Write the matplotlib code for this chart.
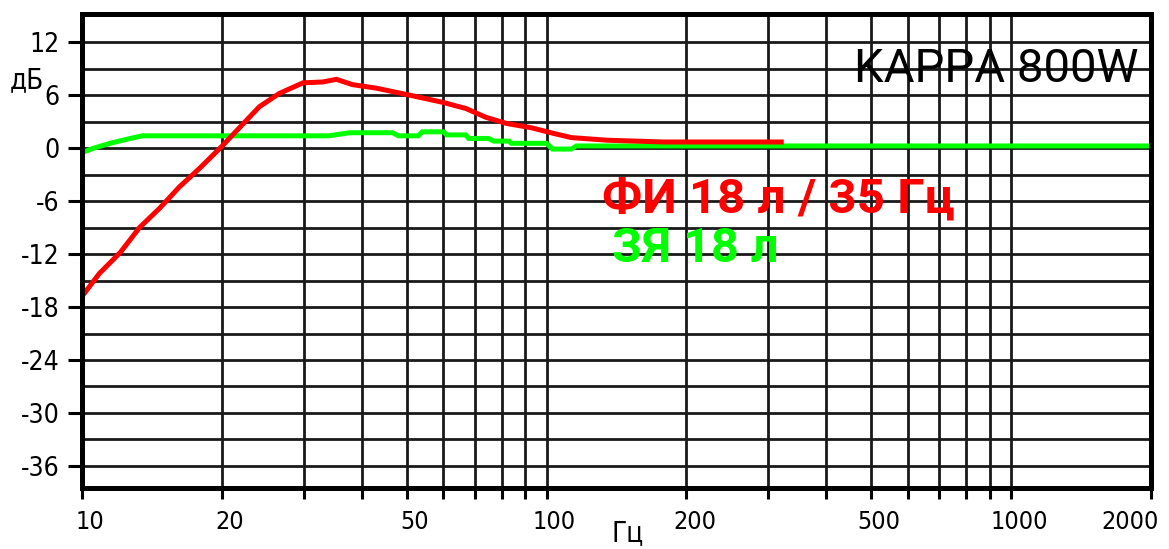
import matplotlib
matplotlib.use("Agg")
import matplotlib.pyplot as plt
import matplotlib.transforms as mtransforms
from matplotlib.ticker import FixedLocator, NullFormatter, MultipleLocator

plt.rcParams['axes.unicode_minus'] = False

# frequency response
red_freq = [10.0, 10.9, 12.1, 13.3, 14.7, 16.2, 17.9, 20.0, 21.9, 24.1, 26.6, 29.9,
            33.0, 35.3, 38.2, 43.0, 50.8, 59.7, 67.0, 74.0, 82.0, 93.0, 103.0,
            113.0, 135.0, 179.0, 320.0]
red_db = [-16.8, -14.2, -11.8, -9.0, -6.8, -4.4, -2.3, 0.2, 2.4, 4.7, 6.2, 7.4,
          7.5, 7.8, 7.2, 6.8, 6.0, 5.2, 4.5, 3.5, 2.8, 2.3, 1.7,
          1.2, 0.9, 0.7, 0.7]

green_freq = [10.0, 10.6, 11.5, 12.7, 13.5, 34.0, 37.7, 46.6, 48.0, 53.0, 54.0, 60.0,
              61.0, 67.0, 68.0, 75.0, 77.0, 83.0, 84.0, 100.0, 103.0, 113.0,
              116.0, 2000.0]
green_db = [-0.5, 0.0, 0.55, 1.1, 1.4, 1.4, 1.75, 1.75, 1.4, 1.4, 1.85, 1.85,
            1.5, 1.5, 1.1, 1.1, 0.8, 0.8, 0.55, 0.55, -0.1, -0.1,
            0.25, 0.25]

x_ticks = [10, 20, 50, 100, 200, 500, 1000, 2000]
x_grid = [20, 30, 40, 50, 60, 70, 80, 90, 100, 200, 300, 400, 500, 600, 700, 800, 900, 1000]
y_ticks = [12, 6, 0, -6, -12, -18, -24, -30, -36]

label_font = ['DejaVu Sans']

fig = plt.figure(figsize=(11.69, 5.49), dpi=100)
ax = fig.add_axes([0.0701, 0.1111, 0.9145, 0.8634])

ax.set_xscale('log')
ax.set_xlim(10, 2000)
ax.set_ylim(-38.5, 15.2)

ax.plot(green_freq, green_db, color='#00ff00', lw=3.6, zorder=3, solid_joinstyle='miter')
ax.plot(red_freq, red_db, color='#ff0000', lw=3.6, zorder=4, solid_joinstyle='miter')

# grid
ax.xaxis.set_major_locator(FixedLocator(x_ticks))
ax.xaxis.set_minor_locator(FixedLocator(x_grid))
ax.xaxis.set_minor_formatter(NullFormatter())
ax.set_xticklabels([str(t) for t in x_ticks])
ax.yaxis.set_major_locator(FixedLocator(y_ticks))
ax.yaxis.set_minor_locator(MultipleLocator(3))
for v in x_grid:
    ax.axvline(v, color='#1a1a1a', lw=2.0, zorder=1)
for v in range(-36, 15, 3):
    ax.axhline(v, color='#1a1a1a', lw=2.0, zorder=1)

ax.tick_params(axis='both', which='both', direction='out', width=2.2, color='black')
ax.tick_params(axis='x', which='both', length=8, pad=8, labelsize=18)
ax.tick_params(axis='y', which='major', length=10, pad=6, labelsize=19)
ax.tick_params(axis='y', which='minor', length=0)
for lab in ax.get_xticklabels() + ax.get_yticklabels():
    lab.set_family(label_font)
    lab.set_stretch('condensed')

# labels sit a little to the right of their ticks, the last one is pulled inside
shift = mtransforms.ScaledTranslation(8 / 100, 0, fig.dpi_scale_trans)
for lab in ax.get_xticklabels():
    lab.set_transform(lab.get_transform() + shift)
last = ax.get_xticklabels()[-1]
last.set_horizontalalignment('right')

for s in ax.spines.values():
    s.set_linewidth(3.6)
    s.set_color('black')
    s.set_zorder(5)

fig.text(27 / 1169, 1 - 80 / 549, 'дБ', fontsize=20, family=label_font,
         stretch='condensed', ha='center', va='center')
fig.text(628 / 1169, 2 / 549, 'Гц', fontsize=20, family=label_font,
         stretch='condensed', ha='center', va='bottom')

ax.text(0.988, 0.884, 'KAPPA 800W', transform=ax.transAxes, fontsize=34,
        family=['Roboto', 'DejaVu Sans'], ha='right', va='center', color='black', zorder=6)
fig.text(602 / 1169, 1 - 200 / 549, 'ФИ 18 л / 35 Гц', fontsize=35.5, fontweight='bold',
         family=['Roboto', 'DejaVu Sans'], color='#ff0000', ha='left', va='center', zorder=6)
fig.text(612 / 1169, 1 - 249 / 549, 'ЗЯ 18 л', fontsize=35, fontweight='bold',
         family=['Roboto', 'DejaVu Sans'], color='#00ff00', ha='left', va='center', zorder=6)

fig.savefig('out.png', dpi=100)
